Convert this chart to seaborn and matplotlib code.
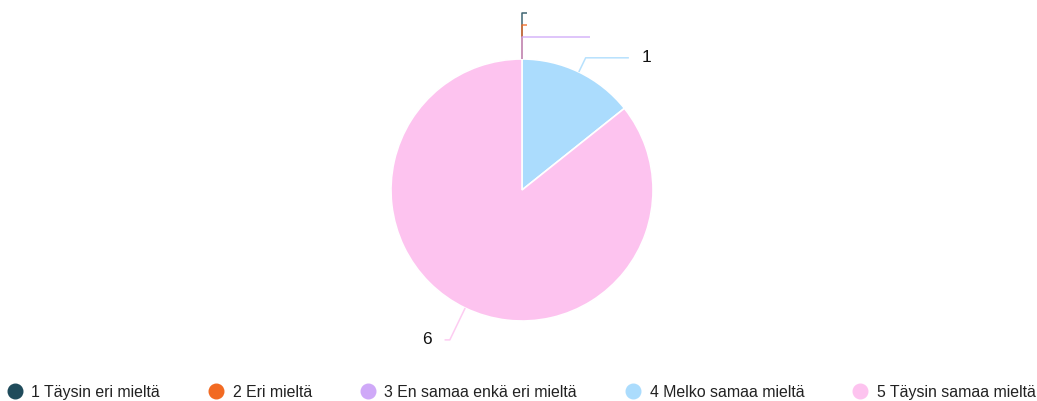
import numpy as np
import seaborn as sns
import matplotlib.pyplot as plt
from matplotlib.lines import Line2D

# -----------------------------
# DATA
# -----------------------------
categories = ["1 Täysin eri mieltä", "2 Eri mieltä", "3 En samaa enkä eri mieltä",
              "4 Melko samaa mieltä", "5 Täysin samaa mieltä"]
counts = [0, 0, 0, 1, 6]
colors = ["#1f4b5b", "#f26a22", "#cfa9f8", "#abdcfd", "#fdc3ef"]

# leader line style per slice: (elbow radius, horizontal length)
leader_style = [(1.35, 0.04), (1.26, 0.04), (1.17, 0.52), (1.12, 0.33), (1.27, 0.04)]

# -----------------------------
# SETUP
# -----------------------------
sns.set_theme(style="white")
plt.rcParams['font.family'] = ['Liberation Sans', 'DejaVu Sans']

fig = plt.figure(figsize=(10.37, 4.01), dpi=100)
ax = fig.add_axes([0, 0, 1, 1])

# -----------------------------
# PIE
# -----------------------------
wedges, _ = ax.pie(counts, colors=colors, startangle=90, counterclock=False,
                   radius=1, wedgeprops=dict(edgecolor='white', linewidth=1.2))

# pie centre at (522, 190) px, radius 131 px
ax.set_xlim(-522 / 131, (1037 - 522) / 131)
ax.set_ylim(-(401 - 190) / 131, 190 / 131)
ax.set_aspect('equal')
ax.axis('off')

# -----------------------------
# LEADER LINES + LABELS
# -----------------------------
total = sum(counts)
start = 90.0
for i, (val, col) in enumerate(zip(counts, colors)):
    span = 360.0 * val / total
    mid = start - span / 2
    start -= span
    r_elbow, h_len = leader_style[i]
    ang = np.deg2rad(mid)
    x0, y0 = np.cos(ang), np.sin(ang)
    x1, y1 = r_elbow * np.cos(ang), r_elbow * np.sin(ang)
    side = 1 if x1 >= -1e-9 else -1
    x2 = x1 + side * h_len
    ax.plot([x0, x1, x2], [y0, y1, y1], color=col, lw=1.1, alpha=0.85,
            solid_capstyle='butt', zorder=3 + i)
    if val > 0:
        ax.text(x2 + side * 0.1, y1, str(val), fontsize=12.5, color='#111111',
                ha='left' if side > 0 else 'right', va='center')

# -----------------------------
# LEGEND
# -----------------------------
handles = [Line2D([0], [0], marker='o', linestyle='', markersize=10.5,
                  markerfacecolor=c, markeredgecolor=c) for c in colors]
fig.legend(handles, categories, loc='lower center', bbox_to_anchor=(0.503, -0.033),
           ncol=5, frameon=False, fontsize=11.4, columnspacing=3.08,
           handletextpad=0.6, handlelength=0.9, labelcolor='#222222')

fig.savefig("out.png", dpi=100)
